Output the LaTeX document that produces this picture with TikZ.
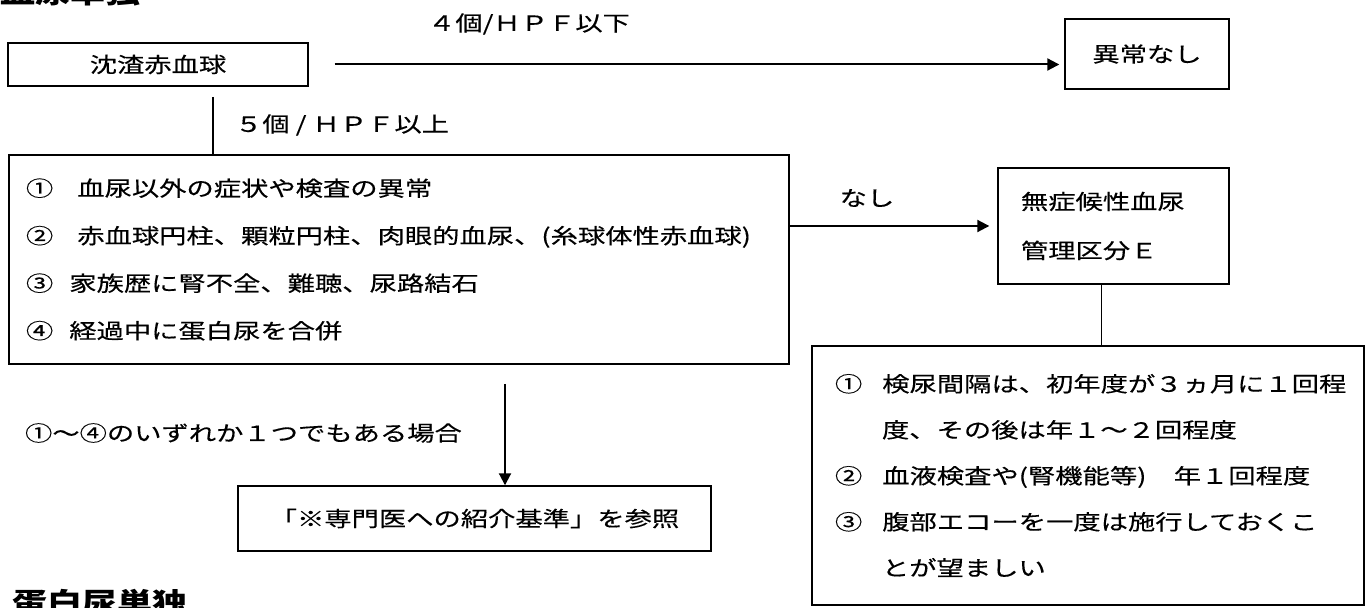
\documentclass[tikz,border=0pt]{standalone}
\usepackage{fontspec}
\setmainfont{Noto Sans CJK JP}[FakeStretch=1.3, UprightFeatures={FakeBold=0.35}]
\usetikzlibrary{arrows.meta}

\begin{document}
\begin{tikzpicture}[x=0.5pt, y=-0.5pt, font=\fontsize{10.5pt}{12pt}\selectfont,
  box/.style={draw, line width=0.7pt},
  flow/.style={line width=1pt, -{Triangle[length=6pt,width=6pt]}},
  head/.style={font=\fontsize{13.5pt}{15pt}\selectfont\bfseries, inner sep=0pt}]
	\useasboundingbox (0,0) rectangle (1372,608);
	\clip (0,0) rectangle (1372,608);
	\node[head, anchor=base west] (hematuria) at (0,4) {血尿単独};
	\node[head, anchor=north west] (proteinuria) at (12,589) {蛋白尿単独};
	\node[box, minimum width=150pt, minimum height=21.5pt] (sed) at (158,64.5) {沈渣赤血球};
	\node[box, minimum width=82pt, minimum height=35pt] (normal) at (1147,54) {異常なし};
	\draw[flow, shorten >=2.5pt] ([xshift=13pt]sed.east) -- (sed.east -| normal.west);
	\node (le4) at (529,24) {４個/ＨＰＦ以下};
	\coordinate (split) at (213,97);
	\node[anchor=west] (ge5) at (228,125) {５個 / ＨＰＦ以上};
	\node[box, minimum width=390pt, minimum height=104.5pt, inner xsep=8.5pt, text width=373pt, align=left,
	  font=\fontsize{10.5pt}{23.75pt}\selectfont] (signs) at (399,259.5)
	  {①\hspace{12pt}血尿以外の症状や検査の異常\\
	   ②\hspace{12pt}赤血球円柱、顆粒円柱、肉眼的血尿、(糸球体性赤血球)\\
	   ③\hspace{8pt}家族歴に腎不全、難聴、尿路結石\\
	   ④\hspace{8pt}経過中に蛋白尿を合併};
	\draw[line width=0.6pt] (split) -- (split |- signs.north);
	\node[box, minimum width=115.5pt, minimum height=58pt, inner xsep=11.5pt, text width=92.5pt, align=left,
	  font=\fontsize{10.5pt}{24.5pt}\selectfont] (asym) at (1113.5,226) {無症候性血尿\\管理区分Ｅ};
	\draw[flow, shorten >=4pt] (signs.east |- asym.west) -- (asym.west);
	\node (none) at (867,198) {なし};
	\node[box, minimum width=276pt, minimum height=129.5pt, inner xsep=11.5pt, text width=253pt, align=left,
	  font=\fontsize{10.5pt}{23pt}\selectfont] (followup) at (1088,475.5)
	  {①\hspace{10pt}検尿間隔は、初年度が３ヵ月に１回程\\
	   \hspace{23.5pt}度、その後は年１～２回程度\\
	   ②\hspace{10pt}血液検査や(腎機能等)　年１回程度\\
	   ③\hspace{10pt}腹部エコーを一度は施行しておくこ\\
	   \hspace{23.5pt}とが望ましい};
	\draw[line width=0.6pt] ([xshift=-6pt]asym.south) -- ([xshift=-6pt]asym.south |- followup.north);
	\node[box, minimum width=236.5pt, minimum height=32.5pt] (refer) at (474.5,518.5) {「※専門医への紹介基準」を参照};
	\coordinate (anyone) at (505,384);
	\draw[flow] (anyone) -- (anyone |- refer.north);
	\node[anchor=west] (cond) at (18,433) {①～④のいずれか１つでもある場合};
\end{tikzpicture}
\end{document}
